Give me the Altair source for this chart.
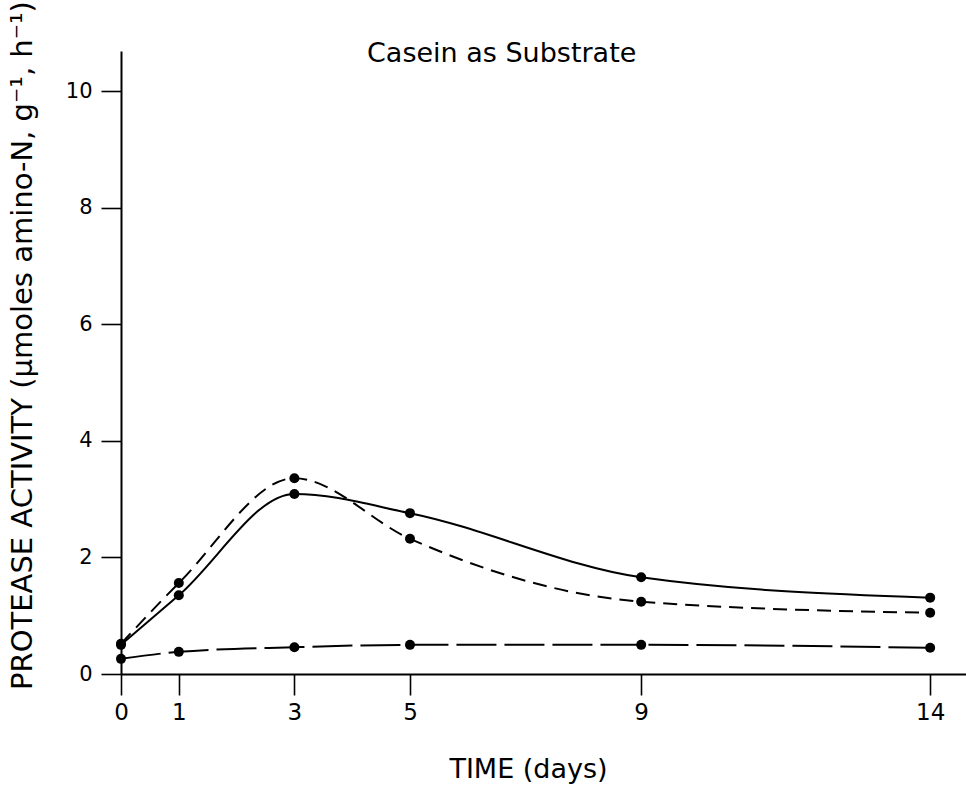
import altair as alt
import pandas as pd

days = [0, 1, 3, 5, 9, 14]
solid_vals = [0.50, 1.35, 3.09, 2.76, 1.66, 1.31]
dashed_vals = [0.52, 1.56, 3.36, 2.32, 1.24, 1.05]
lower_vals = [0.26, 0.38, 0.46, 0.50, 0.50, 0.45]
x_ticks = [0, 1, 3, 5, 9, 14]
y_ticks = [0, 2, 4, 6, 8, 10]
chart_title = ["Casein as Substrate"]

FONT = "DejaVu Sans"

df_solid = pd.DataFrame({"day": days, "value": solid_vals})
df_dashed = pd.DataFrame({"day": days, "value": dashed_vals})
df_lower = pd.DataFrame({"day": days, "value": lower_vals})
df_title = pd.DataFrame({"t": chart_title})

x_enc = alt.X(
    "day:Q",
    scale=alt.Scale(domain=[0, 14.62], nice=False, zero=False),
    axis=alt.Axis(
        values=x_ticks,
        title="TIME (days)",
        titleFont=FONT,
        titleFontSize=27,
        titleFontWeight="normal",
        titleX=407,
        titleY=95,
        titleBaseline="middle",
        titleAlign="center",
        labelFont=FONT,
        labelFontSize=23,
        labelPadding=6,
        labelFlush=False,
        tickSize=21,
        tickWidth=1.6,
        domainWidth=2,
        domainColor="black",
        tickColor="black",
        labelColor="black",
        titleColor="black",
        grid=False,
    ),
)
y_enc = alt.Y(
    "value:Q",
    scale=alt.Scale(domain=[0, 10.69], nice=False),
    axis=alt.Axis(
        values=y_ticks,
        title="PROTEASE ACTIVITY (μmoles amino-N, g⁻¹, h⁻¹)",
        titleFont=FONT,
        titleFontSize=29,
        titleFontWeight="normal",
        titleAngle=270,
        titleX=-99,
        titleY=294,
        titleAlign="center",
        titleBaseline="middle",
        labelFont=FONT,
        labelFontSize=21,
        labelPadding=9,
        labelFlush=False,
        tickSize=20,
        tickWidth=1.6,
        domainWidth=2,
        domainColor="black",
        tickColor="black",
        labelColor="black",
        titleColor="black",
        grid=False,
    ),
)


def series(df, dash):
    kw = dict(color="black", strokeWidth=2, interpolate="monotone")
    if dash:
        kw["strokeDash"] = dash
    line = alt.Chart(df).mark_line(**kw).encode(x=x_enc, y=y_enc)
    pts = alt.Chart(df).mark_circle(color="black", size=100, opacity=1).encode(
        x=x_enc, y=y_enc
    )
    return line + pts


title_layer = alt.Chart(df_title).mark_text(
    font=FONT, fontSize=27, color="black", align="left", baseline="alphabetic"
).encode(text="t:N", x=alt.value(246), y=alt.value(11))

chart = alt.layer(
    series(df_solid, None),
    series(df_dashed, [14, 8]),
    series(df_lower, [40, 8]),
    title_layer,
).properties(
    width=845,
    height=623,
    autosize=alt.AutoSizeParams(type="none"),
    padding={"left": 121, "top": 51, "right": 0, "bottom": 114},
).configure(background="white", view=alt.ViewConfig(stroke=None))

chart.save("out.html", embed_options={"renderer": "svg", "actions": False})
